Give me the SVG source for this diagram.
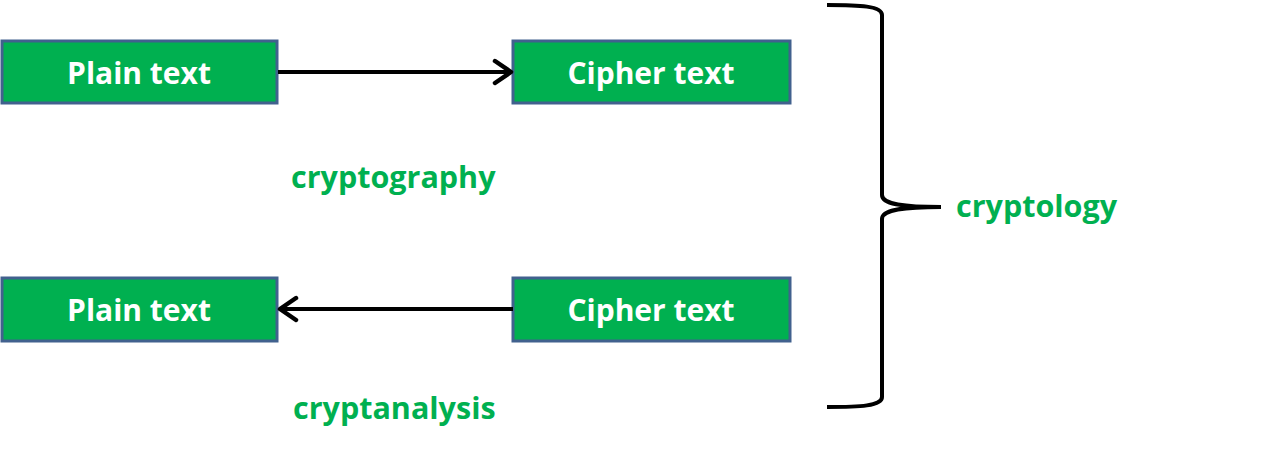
<svg xmlns="http://www.w3.org/2000/svg" width="1265" height="454" viewBox="0 0 1265 454">
<style>
.box{fill:#00B050;stroke:#41618E;stroke-width:3}
.bt{font-family:"Open Sans",Lato,sans-serif;font-weight:bold;font-size:30px;fill:#fff;text-anchor:middle}
.lbl{font-family:"Open Sans",Lato,sans-serif;font-weight:bold;font-size:30.5px;fill:#00B050}
.con{stroke:#000;stroke-width:4;fill:none}
</style>
<defs>
<marker id="ah" markerWidth="24" markerHeight="28" refX="20" refY="14" orient="auto" markerUnits="userSpaceOnUse">
<path d="M4,3 L20,14 L4,25" fill="none" stroke="#000" stroke-width="4.5" stroke-linecap="round" stroke-linejoin="round"/>
</marker>
</defs>
<rect width="1265" height="454" fill="#fff"/>
<g id="plain1"><rect class="box" x="2" y="41" width="275" height="62"/><text class="bt" x="139" y="84">Plain text</text></g>
<g id="cipher1"><rect class="box" x="513" y="41" width="277" height="62"/><text class="bt" x="651" y="84">Cipher text</text></g>
<g id="plain2"><rect class="box" x="2" y="278" width="275" height="63"/><text class="bt" x="139" y="321">Plain text</text></g>
<g id="cipher2"><rect class="box" x="513" y="278" width="277" height="63"/><text class="bt" x="651" y="321">Cipher text</text></g>
<g id="connectors">
<line class="con" x1="278" y1="72" x2="511" y2="72" marker-end="url(#ah)"/>
<line class="con" x1="513" y1="309" x2="280" y2="309" marker-end="url(#ah)"/>
</g>
<g id="brace">
<path class="con" stroke-width="6" d="M827,5 C860,5 882,6 882,15 L882,195 C882,204 900,207 941,207 C900,207 882,210 882,219 L882,397 C882,406 860,407 827,407"/>
</g>
<text class="lbl" x="291" y="188">cryptography</text>
<text class="lbl" x="293" y="419">cryptanalysis</text>
<text class="lbl" x="956" y="217">cryptology</text>
</svg>
